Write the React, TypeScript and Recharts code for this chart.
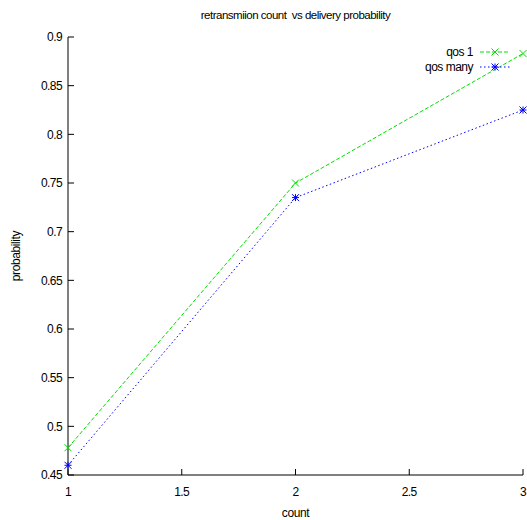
import { LineChart, Line, XAxis, YAxis } from "recharts";

const counts = [1, 2, 3];
const qosOne = [0.478, 0.75, 0.883];
const qosMany = [0.46, 0.735, 0.825];
const xTicks = [1, 1.5, 2, 2.5, 3];
const yTicks = [0.45, 0.5, 0.55, 0.6, 0.65, 0.7, 0.75, 0.8, 0.85, 0.9];
const seriesNames = ["qos 1", "qos many"];

const GREEN = "#00e000";
const BLUE = "#0000ff";
const FONT = "'Liberation Sans', Arial, sans-serif";

const data = counts.map((c, i) => ({ count: c, qos1: qosOne[i], qosMany: qosMany[i] }));

function Cross({ cx, cy, color }: { cx: number; cy: number; color: string }) {
  const s = 3.5;
  return (
    <g stroke={color} strokeWidth={1}>
      <line x1={cx - s} y1={cy - s} x2={cx + s} y2={cy + s} />
      <line x1={cx - s} y1={cy + s} x2={cx + s} y2={cy - s} />
    </g>
  );
}

function Star({ cx, cy, color }: { cx: number; cy: number; color: string }) {
  const s = 3.5;
  return (
    <g stroke={color} strokeWidth={1}>
      <line x1={cx - s} y1={cy - s} x2={cx + s} y2={cy + s} />
      <line x1={cx - s} y1={cy + s} x2={cx + s} y2={cy - s} />
      <line x1={cx - s} y1={cy} x2={cx + s} y2={cy} />
      <line x1={cx} y1={cy - s} x2={cx} y2={cy + s} />
    </g>
  );
}

const tickStyle = { fontSize: 12, fill: "#000", fontFamily: FONT, letterSpacing: "-0.6px" };
const labelStyle = { fontSize: 12, fill: "#000", fontFamily: FONT, letterSpacing: "-0.4px" };
const noLabel = () => <g />;

export default function App() {
  return (
    <div style={{ position: "absolute", top: 0, left: 0, width: 527, height: 520, background: "#fff" }}>
      <LineChart
        width={527}
        height={520}
        data={data}
        margin={{ top: 37, right: 4, left: 8, bottom: 15 }}
      >
        <XAxis
          dataKey="count"
          type="number"
          domain={[1, 3]}
          ticks={xTicks}
          tickSize={-6}
          tickMargin={18}
          height={30}
          stroke="#000"
          tick={tickStyle}
          label={{ value: "count", position: "insideBottom", offset: -12, style: labelStyle }}
        />
        <XAxis
          xAxisId="top"
          dataKey="count"
          type="number"
          orientation="top"
          domain={[1, 3]}
          ticks={xTicks}
          tickSize={-6}
          height={0}
          stroke="#000"
          tick={noLabel}
        />
        <YAxis
          type="number"
          domain={[0.45, 0.9]}
          ticks={yTicks}
          tickSize={-6}
          tickMargin={12}
          width={60}
          stroke="#000"
          tick={tickStyle}
          label={{ value: "probability", angle: -90, position: "insideLeft", offset: 8, style: { ...labelStyle, textAnchor: "middle" } }}
        />
        <YAxis
          yAxisId="right"
          type="number"
          orientation="right"
          domain={[0.45, 0.9]}
          ticks={yTicks}
          tickSize={-6}
          width={0}
          stroke="#000"
          tick={noLabel}
        />
        <Line
          dataKey="qos1"
          stroke={GREEN}
          strokeDasharray="4 2"
          strokeWidth={1}
          isAnimationActive={false}
          dot={(p: any) => <Cross key={`a${p.index}`} cx={p.cx} cy={p.cy} color={GREEN} />}
        />
        <Line
          dataKey="qosMany"
          stroke={BLUE}
          strokeDasharray="1.5 2.5"
          strokeWidth={1}
          isAnimationActive={false}
          dot={(p: any) => <Star key={`b${p.index}`} cx={p.cx} cy={p.cy} color={BLUE} />}
        />
      </LineChart>
      <div
        style={{
          position: "absolute",
          top: 9,
          left: 68,
          width: 455,
          textAlign: "center",
          fontFamily: FONT,
          fontSize: 11.5,
          letterSpacing: "-0.5px",
          color: "#000",
        }}
      >
        retransmiion count&nbsp; vs delivery probability
      </div>
      <svg style={{ position: "absolute", top: 40, left: 380 }} width={140} height={36}>
        {seriesNames.map((name, i) => {
          const y = 12 + i * 15;
          const color = i === 0 ? GREEN : BLUE;
          return (
            <g key={name}>
              <text x={93} y={y + 4} textAnchor="end" fontSize={12} fontFamily={FONT} letterSpacing="-0.5px" fill="#000">
                {name}
              </text>
              <line x1={100} y1={y} x2={130} y2={y} stroke={color} strokeDasharray={i === 0 ? "4 2" : "1.5 2.5"} />
              {i === 0 ? <Cross cx={115} cy={y} color={color} /> : <Star cx={115} cy={y} color={color} />}
            </g>
          );
        })}
      </svg>
    </div>
  );
}
